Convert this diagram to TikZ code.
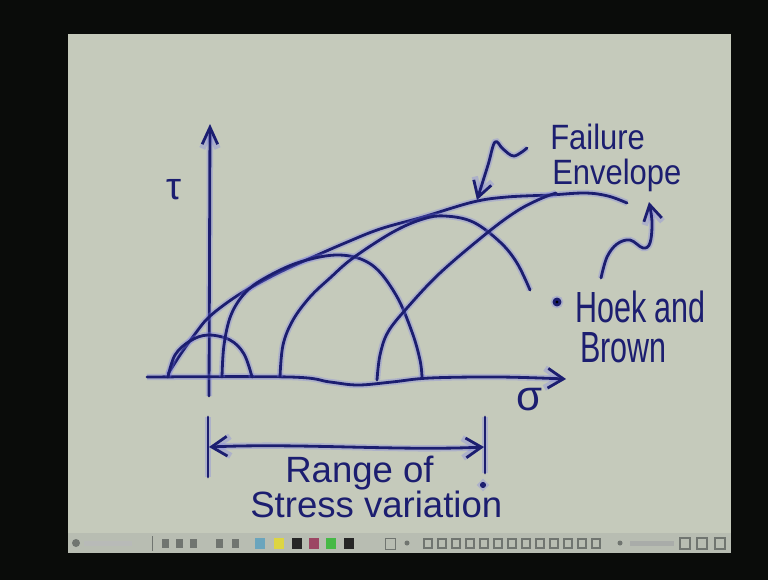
\documentclass[tikz,border=0pt]{standalone}
\usepackage{fontspec}
\newfontfamily\handfont{Liberation Sans}
\newfontfamily\handnarrow[FakeStretch=0.88]{Liberation Sans}
\newfontfamily\handthin[FakeStretch=0.7]{Liberation Sans}
\usetikzlibrary{arrows.meta}
\definecolor{ink}{RGB}{28,30,112}
\definecolor{inkhalo}{RGB}{120,120,235}
\definecolor{slidebg}{RGB}{197,202,187}
\definecolor{screenbg}{RGB}{10,12,10}
\definecolor{toolbg}{RGB}{184,189,178}
\definecolor{toolicon}{RGB}{112,117,112}

\begin{document}
\begin{tikzpicture}[
  x=0.025cm, y=-0.025cm,
  ink/.style={draw=ink,line width=2pt,line cap=round,line join=round,
              preaction={draw=inkhalo,line width=4.5pt,opacity=0.3}},
  barb/.style={-{Straight Barb[length=11pt,width=13pt]}},
  lbl/.style={text=ink,inner sep=0pt},
]
  \useasboundingbox (0,0) rectangle (768,580);

  % Screen and slide
  \fill[screenbg] (0,0) rectangle (768,580);
  \fill[slidebg] (68,34) rectangle (731,553);

  % Toolbar
  \fill[toolbg] (68,533) rectangle (731,553);
  \fill[toolicon] (76,543) circle (4);
  \fill[toolicon!50] (84,541) rectangle (132,546);
  \draw[toolicon] (152,536) -- (152,551);
  \foreach \x in {162,176,190,216,232}
    \fill[toolicon] (\x,539) rectangle ++(7,9);
  \foreach \x/\c in {260/cyan!45!gray,279/yellow!70!gray,297/black!85,
                     314/purple!45!gray,331/green!45!gray,349/black!85}
    \fill[\c] (\x-5,538) rectangle ++(10,11);
  \draw[toolicon] (385,538) rectangle ++(10,11);
  \fill[toolicon] (407,543) circle (2.5);
  \foreach \x in {424,438,452,466,480,494,508,522,536,550,564,578,592}
    \draw[toolicon,line width=1pt] (\x,539) rectangle ++(8,9);
  \fill[toolicon] (620,543) circle (2.5);
  \fill[toolicon!60] (630,541) rectangle (674,546);
  \foreach \x in {680,697,715}
    \draw[toolicon,line width=1pt] (\x,538) rectangle ++(10,11);

  % Axes
  \draw[ink,-{Straight Barb[length=12pt,width=11pt]}] (209,396) -- (210,124);
  \draw[ink,-{Straight Barb[length=11pt,width=14pt]}]
    plot[smooth,tension=0.6] coordinates {(147,377) (290,377) (330,382) (358,385)
      (392,382) (430,378) (500,377) (566,379)};
  \node[lbl,font=\handfont\fontsize{27}{30}\selectfont] (tau) at (174,190) {τ};
  \node[lbl,font=\handfont\fontsize{30}{34}\selectfont] (sigma) at (530,400) {σ};

  % Failure envelope
  \draw[ink] plot[smooth,tension=0.6] coordinates {(168,374) (180,355) (195,334)
    (208,318) (228,302) (250,288) (280,272) (313,257) (345,243) (380,229)
    (423,217) (473,202) (507,197) (550,195) (585,193) (608,196) (627,203)};

  % Mohr circles
  \draw[ink] plot[smooth,tension=0.6] coordinates {(168,377) (175,355) (190,341)
    (208,335) (230,340) (244,354) (252,377)};
  \draw[ink] plot[smooth,tension=0.6] coordinates {(222,377) (224,345) (231,315)
    (245,293) (265,278) (300,262) (340,255) (372,265) (396,295) (412,332)
    (420,360) (422,377)};
  \draw[ink] plot[smooth,tension=0.6] coordinates {(280,377) (283,345) (293,320)
    (310,297) (330,278) (353,258) (393,232) (423,219) (445,216) (473,222)
    (500,242) (517,263) (530,290)};
  \draw[ink] plot[smooth,tension=0.6] coordinates {(377,380) (380,355) (388,332)
    (407,308) (440,273) (487,233) (517,211) (540,199) (556,193)};

  % Labels
  \node[lbl,anchor=base west,font=\handnarrow\fontsize{25}{29}\selectfont]
    (failure) at (550,149) {Failure};
  \node[lbl,anchor=base west,font=\handnarrow\fontsize{25}{29}\selectfont]
    (envelope) at (552,184) {Envelope};
  \node[lbl,anchor=base west,font=\handthin\fontsize{31}{35}\selectfont]
    (hoek) at (575,322) {Hoek and};
  \node[lbl,anchor=base west,font=\handthin\fontsize{31}{35}\selectfont]
    (brown) at (580,362) {Brown};
  \fill[ink] (557,302) circle (3);

  % Squiggle arrows
  \coordinate (envmid) at (477,200);
  \coordinate (envend) at (649,202);
  \coordinate (tilde) at (527,148);
  \coordinate (hook) at (601,278);
  \draw[ink,barb] plot[smooth,tension=0.6] coordinates {(tilde) (514,156)
    (503,149) (495,142) (488,165) (envmid)};
  \draw[ink,barb] plot[smooth,tension=0.6] coordinates {(hook) (607,257)
    (617,244) (630,240) (643,248) (650,243) (652,222) (envend)};

  % Range of stress variation
  \draw[ink] (208,417) -- (208,477);
  \draw[ink] (485,417) -- (485,473);
  \fill[ink] (483,485) circle (1.8);
  \coordinate (rangeL) at (209,447);
  \coordinate (rangeR) at (484,447);
  \draw[ink,{Straight Barb[length=11pt,width=14pt]}-{Straight Barb[length=11pt,width=14pt]}]
    (rangeL) .. controls (300,443) and (400,451) .. (rangeR);
  \node[lbl,anchor=base west,font=\handfont\fontsize{26}{30}\selectfont]
    (range) at (285,482) {Range of};
  \node[lbl,anchor=base west,font=\handfont\fontsize{26}{30}\selectfont]
    (stress) at (250,517) {Stress variation};
\end{tikzpicture}
\end{document}
